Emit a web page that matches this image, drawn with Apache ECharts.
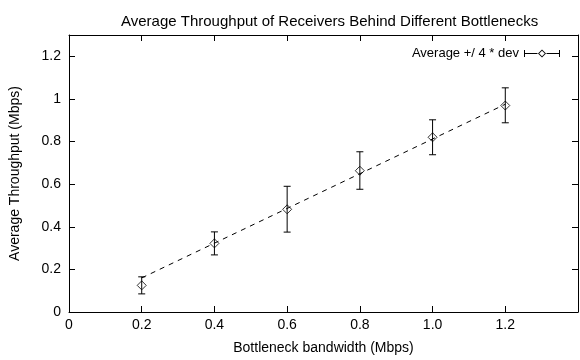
<!DOCTYPE html>
<html>
<head>
<meta charset="utf-8">
<script src="https://cdn.jsdelivr.net/npm/echarts@6/dist/echarts.min.js"></script>
<style>
    html, body { margin: 0; padding: 0; background: #fff; }
    #chart { width: 580px; height: 360px; }
</style>
</head>
<body>
<div id="chart"></div>
<script>
// Values
const bandwidths = [0.2, 0.4, 0.6, 0.8, 1.0, 1.2];
const avgValues = [0.125, 0.322, 0.482, 0.663, 0.820, 0.969];
const lowValues = [0.085, 0.268, 0.375, 0.576, 0.738, 0.888];
const highValues = [0.165, 0.376, 0.590, 0.752, 0.902, 1.052];

// Dashed trend line end points
const trendX = [0.2, 1.2];
const trendY = [0.16, 0.975];

const xTicks = [0, 0.2, 0.4, 0.6, 0.8, 1.0, 1.2];
const yTicks = [0, 0.2, 0.4, 0.6, 0.8, 1.0, 1.2];

const seriesName = 'Average +/ 4 * dev';
const font = 'Liberation Sans, Arial, sans-serif';

const chart = echarts.init(document.getElementById('chart'));

const tickStyle = (values) => ({
    show: true,
    inside: true,
    length: 6,
    customValues: values,
    lineStyle: { color: '#000', width: 1 }
});

const frameLine = { show: true, onZero: false, lineStyle: { color: '#000', width: 1 } };

// hollow diamond with whiskers, used as the legend sample
const legendIcon = 'path://M0,1.5L1,1.5L1,4.5L13.5,4.5L13.5,5.5L1,5.5L1,8.5L0,8.5Z' +
    'M35,1.5L36,1.5L36,8.5L35,8.5L35,5.5L22.5,5.5L22.5,4.5L35,4.5Z' +
    'M18,1L22,5L18,9L14,5Z M18,2.2L15.2,5L18,7.8L20.8,5Z';

const option = {
    animation: false,
    backgroundColor: '#fff',
    textStyle: { fontFamily: font },
    title: {
        text: 'Average Throughput of Receivers Behind Different Bottlenecks',
        left: 116,
        top: 9,
        textStyle: { fontSize: 15, fontWeight: 'normal', color: '#000', fontFamily: font }
    },
    legend: {
        data: [seriesName],
        right: 15,
        top: 42,
        align: 'right',
        itemWidth: 36,
        itemHeight: 10,
        icon: legendIcon,
        textStyle: { fontSize: 13, color: '#000', fontFamily: font },
        selectedMode: false
    },
    grid: { left: 67, right: 2, top: 35, bottom: 46 },
    xAxis: [
        {
            type: 'value',
            min: 0,
            max: 1.4,
            position: 'bottom',
            name: 'Bottleneck bandwidth (Mbps)',
            nameLocation: 'middle',
            nameGap: 29,
            nameTextStyle: { fontSize: 14, color: '#000', fontFamily: font },
            axisLine: frameLine,
            axisTick: tickStyle(xTicks),
            axisLabel: {
                customValues: xTicks,
                color: '#000',
                fontSize: 14,
                margin: 6,
                formatter: (v) => (v === 0 ? '0' : v.toFixed(1))
            },
            splitLine: { show: false }
        },
        {
            type: 'value',
            min: 0,
            max: 1.4,
            position: 'top',
            axisLine: frameLine,
            axisTick: tickStyle(xTicks),
            axisLabel: { show: false },
            splitLine: { show: false }
        }
    ],
    yAxis: [
        {
            type: 'value',
            min: 0,
            max: 1.3,
            position: 'left',
            name: 'Average Throughput (Mbps)',
            nameLocation: 'middle',
            nameGap: 47,
            nameTextStyle: { fontSize: 14, color: '#000', fontFamily: font },
            axisLine: frameLine,
            axisTick: tickStyle(yTicks),
            axisLabel: {
                customValues: yTicks,
                color: '#000',
                fontSize: 14,
                margin: 8,
                formatter: (v) => String(+v.toFixed(1))
            },
            splitLine: { show: false }
        },
        {
            type: 'value',
            min: 0,
            max: 1.3,
            position: 'right',
            axisLine: frameLine,
            axisTick: tickStyle(yTicks),
            axisLabel: { show: false },
            splitLine: { show: false }
        }
    ],
    series: [
        {
            name: 'trend',
            type: 'line',
            data: trendX.map((x, i) => [x, trendY[i]]),
            showSymbol: false,
            silent: true,
            lineStyle: { color: '#000', width: 1, type: [5, 5] }
        },
        {
            name: seriesName,
            type: 'custom',
            itemStyle: { color: '#000' },
            encode: { x: 0, y: [1, 2] },
            data: bandwidths.map((x, i) => [x, lowValues[i], highValues[i]]),
            renderItem: (params, api) => {
                const x = api.value(0);
                const lo = api.coord([x, api.value(1)]);
                const hi = api.coord([x, api.value(2)]);
                const hw = 3.5;
                const style = { stroke: '#000', lineWidth: 1 };
                return {
                    type: 'group',
                    children: [
                        { type: 'line', shape: { x1: lo[0], y1: lo[1], x2: hi[0], y2: hi[1] }, style },
                        { type: 'line', shape: { x1: lo[0] - hw, y1: lo[1], x2: lo[0] + hw, y2: lo[1] }, style },
                        { type: 'line', shape: { x1: hi[0] - hw, y1: hi[1], x2: hi[0] + hw, y2: hi[1] }, style }
                    ]
                };
            }
        },
        {
            name: 'points',
            type: 'scatter',
            data: bandwidths.map((x, i) => [x, avgValues[i]]),
            symbol: 'path://M0,-1L1,0L0,1L-1,0Z',
            symbolSize: 9,
            silent: true,
            itemStyle: { color: 'rgba(0,0,0,0)', borderColor: '#000', borderWidth: 1 }
        }
    ]
};

chart.setOption(option);
</script>
</body>
</html>
